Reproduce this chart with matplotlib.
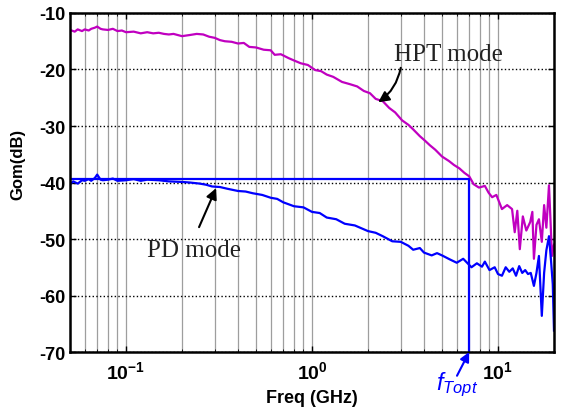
import matplotlib
matplotlib.use('Agg')
import matplotlib.pyplot as plt
from matplotlib.ticker import LogLocator, FuncFormatter, NullFormatter
import numpy as np

# HPT mode (magenta)
f_hpt = [0.05, 0.053, 0.055, 0.058, 0.06, 0.063, 0.065, 0.068, 0.07, 0.073, 0.075, 0.08,
         0.085, 0.09, 0.095, 0.1, 0.11, 0.12, 0.13, 0.14, 0.15, 0.16, 0.17, 0.18, 0.2,
         0.22, 0.24, 0.26, 0.28, 0.3, 0.32, 0.34, 0.37, 0.4, 0.43, 0.46, 0.5, 0.55, 0.6,
         0.63, 0.68, 0.75, 0.8, 0.87, 0.95, 1.04, 1.12, 1.2, 1.3, 1.45, 1.6, 1.75, 1.9,
         2.05, 2.2, 2.4, 2.6, 2.8, 3.05, 3.3, 3.5, 3.8, 4.05, 4.3, 4.6, 5.0, 5.45, 5.8,
         6.2, 6.6, 7.0, 7.4, 7.9, 8.5, 8.9, 9.3, 9.8, 10.5, 11.2, 11.9, 12.3, 12.7, 13.1,
         13.6, 14.2, 14.9, 15.3, 15.6, 16.1, 16.6, 17.2, 17.7, 18.2, 18.8, 19.2, 19.5, 20.0]
gom_hpt = [-13.0, -13.3, -12.9, -13.2, -12.9, -13.1, -12.8, -12.6, -12.4, -12.8, -12.9, -13.0,
           -12.8, -13.2, -13.1, -13.4, -13.3, -13.6, -13.4, -13.6, -13.5, -13.7, -13.8, -13.7, -14.1,
           -13.9, -13.7, -13.8, -14.2, -14.4, -14.8, -15.0, -15.1, -15.4, -15.3, -16.0, -16.1, -16.5, -16.6,
           -17.4, -17.3, -18.0, -18.4, -18.9, -19.2, -20.1, -20.3, -20.9, -21.3, -22.2, -22.6, -23.0, -23.8,
           -24.2, -25.2, -25.6, -26.8, -27.6, -29.0, -29.8, -30.6, -31.8, -32.6, -33.4, -34.2, -35.4, -36.2, -36.9,
           -37.5, -38.3, -38.9, -40.3, -40.9, -40.6, -41.8, -42.6, -42.2, -44.7, -44.0, -44.7, -48.8, -45.0, -51.8,
           -46.0, -48.5, -47.0, -45.2, -53.5, -47.5, -46.5, -50.5, -44.0, -48.0, -40.5, -47.5, -53.0, -51.0]

# PD mode (blue)
f_pd = [0.05, 0.052, 0.055, 0.058, 0.06, 0.063, 0.065, 0.068, 0.07, 0.073, 0.075, 0.08,
        0.085, 0.09, 0.1, 0.11, 0.12, 0.13, 0.15, 0.17, 0.2, 0.22, 0.25, 0.27, 0.29,
        0.32, 0.35, 0.4, 0.44, 0.48, 0.54, 0.6, 0.65, 0.7, 0.8, 0.9, 1.0, 1.1, 1.2,
        1.35, 1.5, 1.7, 2.0, 2.2, 2.4, 2.7, 3.0, 3.3, 3.5, 3.8, 4.0, 4.4, 4.7, 5.0,
        5.5, 6.0, 6.5, 7.2, 7.7, 8.2, 8.5, 9.0, 9.6, 10.0, 10.5, 11.0, 11.5, 12.0, 12.5,
        13.0, 13.5, 14.0, 14.5, 15.0, 15.6, 16.1, 16.6, 17.2, 17.7, 18.2, 18.8, 19.3, 19.7, 20.0]
gom_pd = [-40.3, -39.8, -40.2, -39.6, -39.7, -39.4, -39.7, -39.2, -38.6, -39.5, -39.6, -39.5,
          -39.3, -39.7, -39.6, -39.4, -39.7, -39.5, -39.6, -39.8, -39.9, -40.0, -40.2, -40.4, -40.7,
          -40.8, -41.1, -41.5, -41.6, -41.9, -42.2, -42.7, -42.9, -43.5, -44.2, -44.4, -45.2, -45.4, -46.2,
          -46.5, -47.3, -47.6, -48.6, -48.9, -49.5, -50.4, -50.5, -51.2, -51.9, -51.6, -52.4, -52.9, -52.5, -52.9,
          -53.6, -54.2, -53.5, -55.0, -54.3, -54.9, -54.0, -55.5, -55.0, -56.2, -56.5, -55.0, -55.8, -55.2, -56.5,
          -54.8, -56.0, -55.5, -56.2, -56.0, -58.3, -56.0, -53.0, -63.6, -56.0, -52.0, -49.5, -54.0, -58.0, -66.2]

f_topt = 7.0
gom_topt = -39.4

xlim = (0.05, 20)
ylim = (-70, -10)
yticks = [-70, -60, -50, -40, -30, -20, -10]

plt.rcParams.update({'font.family': 'Liberation Sans', 'axes.unicode_minus': False,
                     'mathtext.fontset': 'custom', 'mathtext.rm': 'Liberation Sans',
                     'mathtext.bf': 'Liberation Sans:bold', 'mathtext.it': 'Liberation Sans:italic'})

fig = plt.figure(figsize=(5.61, 4.14), dpi=100)
ax = fig.add_axes([0.1248, 0.1473, 0.8627, 0.8189])

ax.plot(f_hpt, gom_hpt, color='#C000C0', lw=1.6)
ax.plot(f_pd, gom_pd, color='#0000FF', lw=1.6)
ax.plot([xlim[0], f_topt, f_topt], [gom_topt, gom_topt, ylim[0]], color='#0000FF', lw=1.6)

ax.set_xscale('log')
ax.set_xlim(xlim)
ax.set_ylim(ylim)
ax.set_yticks(yticks)
ax.xaxis.set_major_locator(LogLocator(base=10))
ax.xaxis.set_minor_locator(LogLocator(base=10, subs=np.arange(2, 10)))
ax.xaxis.set_minor_formatter(NullFormatter())
ax.xaxis.set_major_formatter(FuncFormatter(lambda v, p: r'$\mathbf{10^{%d}}$' % round(np.log10(v))))

ax.grid(True, which='both', axis='x', color='0.62', ls='-', lw=0.9)
ax.grid(True, which='major', axis='y', color='k', ls=':', lw=1.0)
ax.set_axisbelow(True)

ax.tick_params(which='both', direction='in', top=True, right=True)
ax.tick_params(which='major', length=4, width=1)
ax.tick_params(which='minor', length=2)
ax.tick_params(axis='y', labelsize=13, pad=3)
ax.tick_params(axis='x', labelsize=14, pad=6)
for t in ax.get_yticklabels():
    t.set_fontweight('bold')
for s in ax.spines.values():
    s.set_linewidth(1.8)

ax.set_ylabel('Gom(dB)', fontsize=12, fontweight='bold')
ax.yaxis.set_label_coords(-0.093, 0.555)
ax.set_xlabel('Freq (GHz)', fontsize=13, fontweight='bold', labelpad=5)

# annotations
arr = dict(arrowstyle='-|>', color='k', lw=1.5, mutation_scale=16, shrinkA=0, shrinkB=0)
ax.text(2.76, -18.3, 'HPT mode', fontsize=18, family='Liberation Serif', color='#222222',
        ha='left', va='baseline')
ax.annotate('', xy=(2.27, -25.8), xytext=(3.0, -19.7),
            arrowprops=dict(arr, connectionstyle='arc3,rad=-0.2'))
ax.text(0.13, -53.0, 'PD mode', fontsize=18, family='Liberation Serif', color='#222222',
        ha='left', va='baseline')
ax.annotate('', xy=(0.305, -41.0), xytext=(0.247, -47.9), arrowprops=arr)
ax.text(6.0, -76.5, r'$f_{Topt}$', fontsize=17, color='#0000FF', ha='center', va='baseline',
        clip_on=False)
ax.annotate('', xy=(f_topt, ylim[0]), xytext=(6.02, -74.2), annotation_clip=False,
            arrowprops=dict(arr, color='#0000FF', mutation_scale=14))

fig.savefig('out.png', dpi=100)
